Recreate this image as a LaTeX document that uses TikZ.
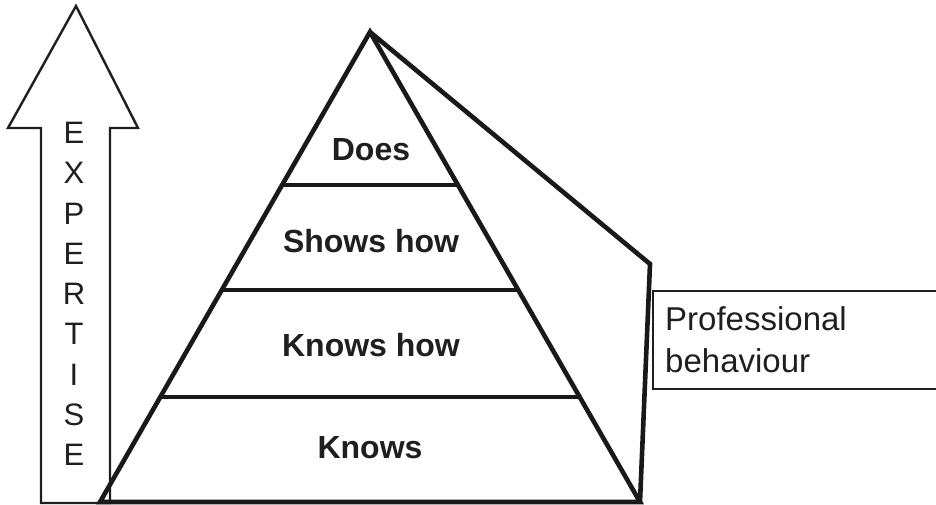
\documentclass[tikz,border=0pt]{standalone}
\usepackage{fontspec}
\setmainfont{Liberation Sans}
\usetikzlibrary{calc}
\begin{document}
\begin{tikzpicture}[x=1pt,y=-1pt,
  thinline/.style={line width=2.4pt,draw=black!88,line join=miter},
  thickline/.style={line width=4.6pt,draw=black!90,line join=miter},
  levellabel/.style={font=\fontsize{32}{36}\selectfont\bfseries,text=black!88,inner sep=0pt},
  letter/.style={font=\fontsize{31}{34}\selectfont,text=black!88,inner sep=0pt},
  boxtext/.style={font=\fontsize{33}{42}\selectfont,text=black!88,inner sep=0pt,align=left,anchor=north west}]
\useasboundingbox (0,0) rectangle (936,505);

% expertise arrow
\draw[thinline] (41,503) -- (41,128) -- (8,128) -- (76,6) -- (138,128) -- (110,128) -- (110,503) -- cycle;
\foreach \ch [count=\i from 0] in {E,X,P,E,R,T,I,S,E}
  \node[letter] (exp\i) at (74,{133+40.25*\i}) {\ch};

% pyramid corners
\coordinate (apex) at (370,32);
\coordinate (bl) at (100,502);
\coordinate (br) at (640,502);
\coordinate (side) at (650,264);

% side face
\draw[thickline] (apex) -- (side) -- (br);
% front face
\draw[thickline] (apex) -- (bl) -- (br) -- cycle;

% level dividers
\draw[thickline] ($(apex)!153/470!(bl)$) coordinate (l1) -- ($(apex)!153/470!(br)$) coordinate (r1);
\draw[thickline] ($(apex)!258/470!(bl)$) coordinate (l2) -- ($(apex)!258/470!(br)$) coordinate (r2);
\draw[thickline] ($(apex)!365/470!(bl)$) coordinate (l3) -- ($(apex)!365/470!(br)$) coordinate (r3);

\node[levellabel] (does) at (371,150) {Does};
\node[levellabel] (shows) at (371,241) {Shows how};
\node[levellabel] (knowshow) at (371,345) {Knows how};
\node[levellabel] (knows) at (370,448) {Knows};

% professional behaviour box, running past the right edge
\begin{scope}
\clip (0,0) rectangle (936,505);
\draw[thinline] (653,291) rectangle (960,389);
\end{scope}
\node[boxtext] (prof) at (665,306) {Professional\\behaviour};
\end{tikzpicture}
\end{document}
